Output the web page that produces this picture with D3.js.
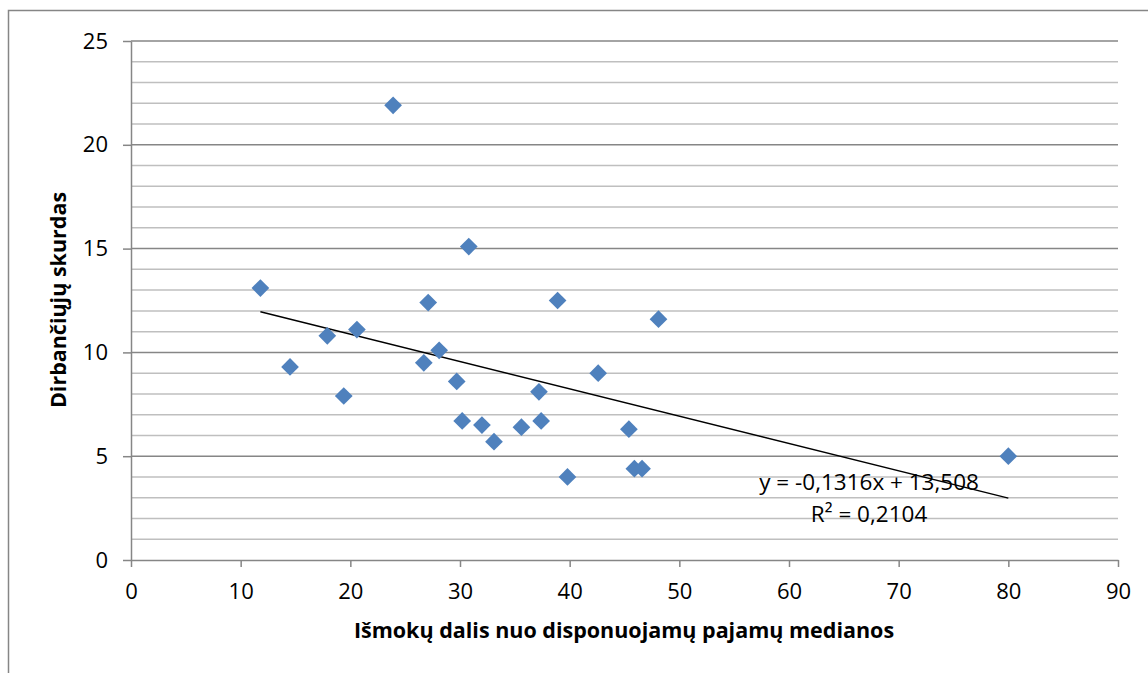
<!DOCTYPE html>
<html lang="lt">
<head>
<meta charset="UTF-8">
<title>Dirbančiųjų skurdas</title>
<style>
  html, body { margin: 0; background: #fff; }
  text { font-family: 'Open Sans', 'Noto Sans', sans-serif; fill: #000; }
  .axis path, .axis line { stroke: #868686; }
  .axis text { font-size: 22px; }
  .grid-minor { stroke: #bfbfbf; stroke-width: 1.5; }
  .grid-major { stroke: #868686; stroke-width: 1.5; }
</style>
</head>
<body>
<svg id="chart" width="1148" height="673"></svg>
<script src="https://d3js.org/d3.v7.min.js"></script>
<script>
// benefit share of median disposable income vs in-work poverty
const xVals = [11.8, 14.5, 17.9, 19.4, 20.6, 23.9, 26.7, 27.1, 28.1, 29.7, 30.2, 30.8,
               32.0, 33.1, 35.6, 37.2, 37.4, 38.9, 39.8, 42.6, 45.4, 45.9, 46.6, 48.1, 80.0];
const yVals = [13.1, 9.3, 10.8, 7.9, 11.1, 21.9, 9.5, 12.4, 10.1, 8.6, 6.7, 15.1,
               6.5, 5.7, 6.4, 8.1, 6.7, 12.5, 4.0, 9.0, 6.3, 4.4, 4.4, 11.6, 5.0];
const xTicks = [0, 10, 20, 30, 40, 50, 60, 70, 80, 90];
const yTicks = [0, 5, 10, 15, 20, 25];
const trendSlope = -0.1316, trendIntercept = 13.508;
const trendLabel = "y = -0,1316x + 13,508";
const r2Label = "R² = 0,2104";
const xTitle = "Išmokų dalis nuo disponuojamų pajamų medianos";
const yTitle = "Dirbančiųjų skurdas";

const svg = d3.select("#chart"),
    margin = {top: 41, right: 30, bottom: 113, left: 131},
    width = +svg.attr("width") - margin.left - margin.right,
    height = +svg.attr("height") - margin.top - margin.bottom;

// chart frame
svg.append("path")
    .attr("d", "M8.5,673 L8.5,10.5 L1148,10.5")
    .attr("fill", "none")
    .attr("stroke", "#868686")
    .attr("stroke-width", 1.5);

const x = d3.scaleLinear().domain([0, 90]).range([0, width]);
const y = d3.scaleLinear().domain([0, 25]).range([height, 0]);

const g = svg.append("g")
    .attr("transform", "translate(" + margin.left + "," + margin.top + ")");

// gridlines: minor every 1, major every 5
const minor = d3.range(1, 25).filter(function (v) { return v % 5 !== 0; });
g.selectAll(".grid-minor")
    .data(minor)
  .enter().append("line")
    .attr("class", "grid-minor")
    .attr("x1", 0).attr("x2", width)
    .attr("y1", function (d) { return y(d); })
    .attr("y2", function (d) { return y(d); });

g.selectAll(".grid-major")
    .data(yTicks.filter(function (v) { return v > 0; }))
  .enter().append("line")
    .attr("class", "grid-major")
    .attr("x1", 0).attr("x2", width)
    .attr("y1", function (d) { return y(d); })
    .attr("y2", function (d) { return y(d); });

g.append("g")
    .attr("class", "axis")
    .attr("transform", "translate(0," + height + ")")
    .call(d3.axisBottom(x).tickValues(xTicks).tickSize(7).tickSizeOuter(0).tickPadding(16));

g.append("g")
    .attr("class", "axis")
    .call(d3.axisLeft(y).tickValues(yTicks).tickSize(8).tickSizeOuter(0).tickPadding(15));

g.selectAll(".axis path, .axis line").attr("stroke-width", 1.5);

// trendline
const tx = d3.extent(xVals);
g.append("line")
    .attr("x1", x(tx[0])).attr("y1", y(trendSlope * tx[0] + trendIntercept))
    .attr("x2", x(tx[1])).attr("y2", y(trendSlope * tx[1] + trendIntercept))
    .attr("stroke", "#000")
    .attr("stroke-width", 1.5);

// points
const diamond = d3.symbol().type(d3.symbolDiamond2).size(200);
g.selectAll(".pt")
    .data(xVals.map(function (v, i) { return {x: v, y: yVals[i]}; }))
  .enter().append("path")
    .attr("class", "pt")
    .attr("d", diamond)
    .attr("fill", "#4f81bd")
    .attr("transform", function (d) { return "translate(" + x(d.x) + "," + y(d.y) + ")"; });

// equation labels
g.append("text")
    .attr("x", x(67.3)).attr("y", y(3.37))
    .attr("text-anchor", "middle")
    .style("font-size", "22.5px")
    .text(trendLabel);
g.append("text")
    .attr("x", x(67.3)).attr("y", y(1.83))
    .attr("text-anchor", "middle")
    .style("font-size", "22.5px")
    .text(r2Label);

// axis titles
svg.append("text")
    .attr("x", 624).attr("y", 638)
    .attr("text-anchor", "middle")
    .style("font-size", "21.5px")
    .style("font-weight", "bold")
    .text(xTitle);

svg.append("text")
    .attr("transform", "translate(66,300) rotate(-90)")
    .attr("text-anchor", "middle")
    .style("font-size", "21.5px")
    .style("font-weight", "bold")
    .text(yTitle);
</script>
</body>
</html>
